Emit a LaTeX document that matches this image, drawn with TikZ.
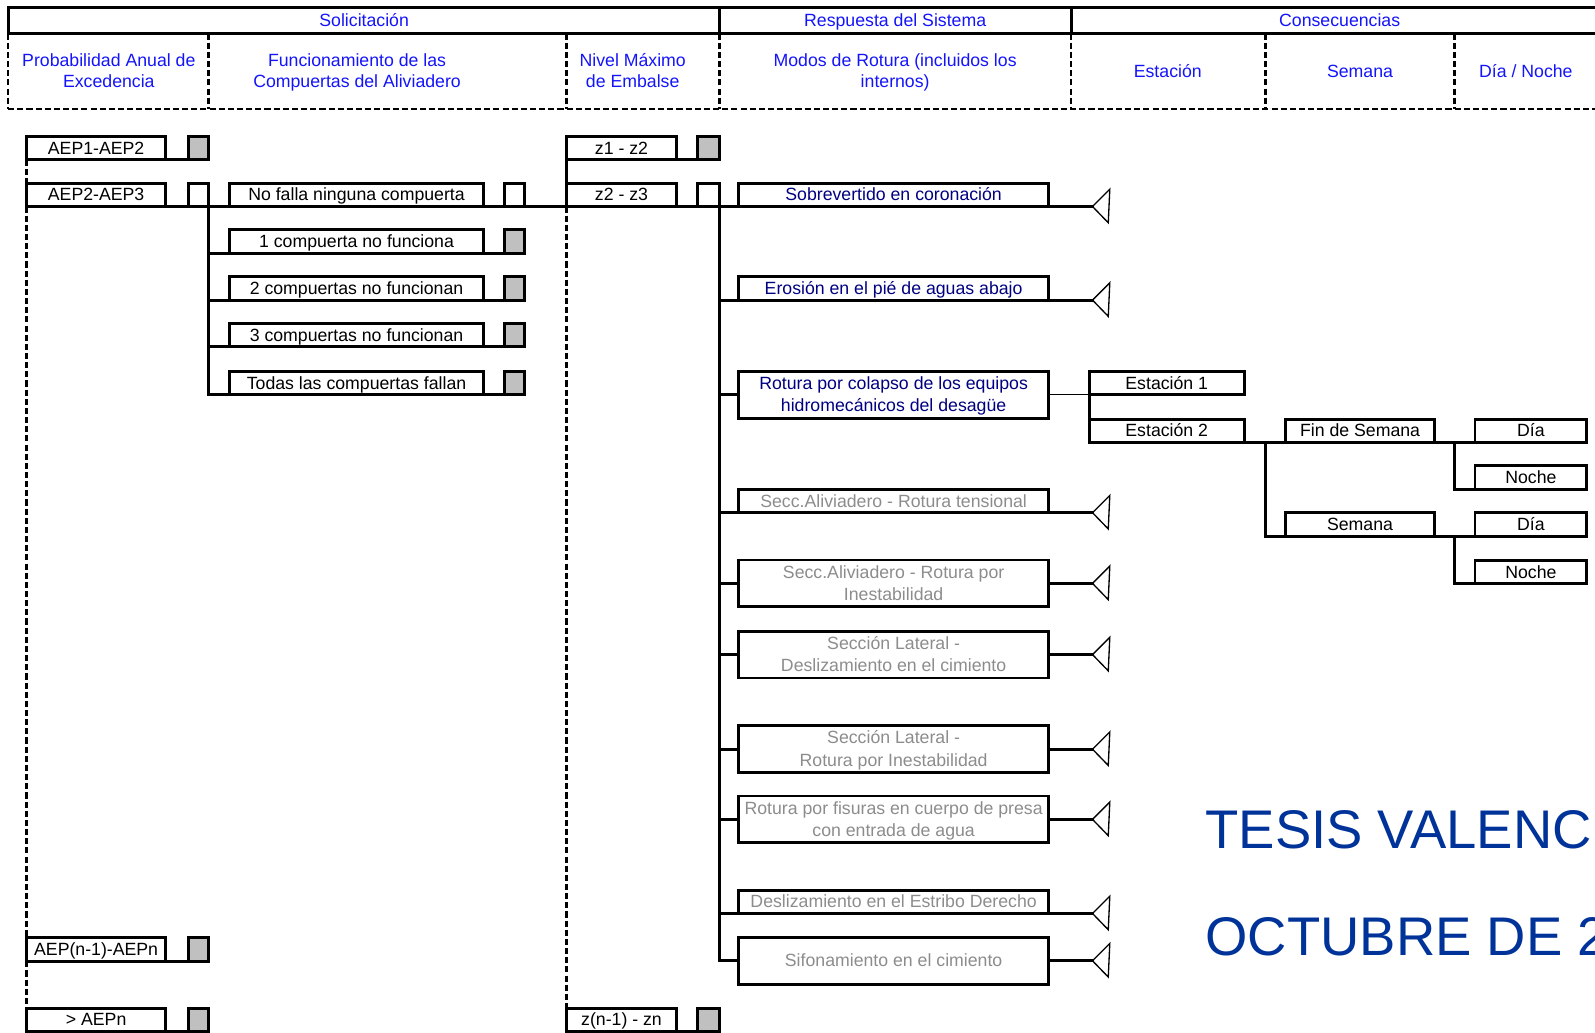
\documentclass[tikz,border=0pt]{standalone}
\usepackage{fontspec}
\setmainfont{Liberation Sans}
\definecolor{hdrblue}{RGB}{20,20,250}
\definecolor{modenavy}{RGB}{0,0,128}
\definecolor{modegray}{RGB}{140,140,140}
\definecolor{cellgray}{RGB}{192,192,192}
\definecolor{titleblue}{RGB}{0,51,153}
\newcommand\boxfont{\fontsize{17.4}{22}\selectfont}
\newcommand\hdrfont{\fontsize{17.4}{21}\selectfont}
\newcommand\titlefont{\fontsize{53.5}{60}\selectfont}
% terminal triangle of a branch: named tip coordinate plus outline
\newcommand\branchleaf[2]{%
  \coordinate (#1) at (1074,#2);
  \draw[endtri] (#1) -- ++(17,-17) -- ++(-1.5,33) -- cycle;}

\begin{document}
\begin{tikzpicture}[x=1pt,y=-1pt,
  rule/.style={line width=2.8pt},
  dashrule/.style={line width=2.6pt, dash pattern=on 6pt off 3pt},
  hdr/.style={font=\hdrfont, text=hdrblue, inner sep=0pt, outer sep=0pt, text height=12.7pt, text depth=0pt},
  hdrtwo/.style={font=\hdrfont, text=hdrblue, align=center, inner sep=0pt, outer sep=0pt, text height=33.7pt, text depth=0pt},
  tag/.style={draw, line width=2.8pt, inner sep=0pt, outer sep=0pt, font=\boxfont, text height=12pt, text depth=0pt},
  tagtwo/.style={draw, line width=2.8pt, inner sep=0pt, outer sep=0pt, font=\boxfont, align=center, text height=34.5pt, text depth=1pt},
  colA/.style={tag, minimum width=137pt, minimum height=23pt},
  colB/.style={tag, minimum width=249pt, minimum height=23pt},
  colC/.style={tag, minimum width=108pt, minimum height=23pt},
  colD/.style={tag, minimum width=305pt, minimum height=23pt},
  colDtwo/.style={tagtwo, minimum width=305pt, minimum height=46pt},
  colE/.style={tag, minimum width=152pt, minimum height=23pt},
  colF/.style={tag, minimum width=146pt, minimum height=23pt},
  colG/.style={tag, minimum width=110pt, minimum height=23pt},
  endsq/.style={draw, line width=2.8pt, inner sep=0pt, outer sep=0pt, minimum width=20pt, minimum height=23pt},
  greysq/.style={endsq, fill=cellgray},
  wire/.style={line width=2.8pt, line cap=rect},
  thinwire/.style={line width=1.5pt},
  endtri/.style={line width=1.3pt, line join=miter},
  titletext/.style={anchor=base west, inner sep=0pt, font=\titlefont, text=titleblue},
]
\useasboundingbox (0,0) rectangle (1568,1015);
\clip (0,0) rectangle (1568,1015);

% ---------------- header table ----------------
\draw[rule] (8,33) -- (8,7) -- (1580,7);
\draw[rule] (8,33) -- (1580,33);
\draw[rule] (707,7) -- (707,33);
\draw[rule] (1053,7) -- (1053,33);
\foreach \x in {8,205,557,707,1053,1244,1430}
  \draw[dashrule] (\x,33) -- (\x,107);
\draw[dashrule] (8,107) -- (1580,107);

\node[hdr] (hsol)  at (358,19.3)  {Solicitación};
\node[hdr] (hresp) at (880,19.3)  {Respuesta del Sistema};
\node[hdr] (hcons) at (1317,19.3) {Consecuencias};
\node[hdrtwo] (hprob)  at (107,69.2) {Probabilidad Anual de\\Excedencia};
\node[hdrtwo] (hfunc)  at (351,69.2) {Funcionamiento de las\\Compuertas del Aliviadero};
\node[hdrtwo] (hnivel) at (622,69.2) {Nivel Máximo\\de Embalse};
\node[hdrtwo] (hmodos) at (880,69.2) {Modos de Rotura (incluidos los\\internos)};
\node[hdr] (hest) at (1148,69.6) {Estación};
\node[hdr] (hsem) at (1337,69.6) {Semana};
\node[hdr] (hdn)  at (1500,69.6) {Día / Noche};

% ---------------- annual exceedance probability ----------------
\node[colA] (aep1)  at (94.5,145.5)  {AEP1-AEP2};
\node[greysq] (aep1s) at (195,145.5) {};
\node[colA] (aep2)  at (94.5,191.5)  {AEP2-AEP3};
\node[endsq] (aep2s) at (195,191.5) {};
\node[colA] (aepm)  at (94.5,933.5)  {AEP(n-1)-AEPn};
\node[greysq] (aepms) at (195,933.5) {};
\node[colA] (aepn)  at (94.5,1002.5) {> AEPn};
\node[greysq] (aepns) at (195,1002.5) {};

\draw[wire] (aep1.south west) -- (aep1s.south east);
\draw[wire] (aepm.south west) -- (aepms.south east);
\draw[wire] (aepn.south west) -- (aepns.south east);
\draw[dashrule] (aep1.south west) -- (aep2.north west);
\draw[dashrule] (aep2.south west) -- (aepm.north west);
\draw[dashrule] (aepm.south west) -- (aepn.north west);

% ---------------- spillway gates ----------------
\node[colB] (g0) at (350.5,191.5) {No falla ninguna compuerta};
\node[endsq] (g0s) at (506,191.5) {};
\node[colB] (g1) at (350.5,237.5) {1 compuerta no funciona};
\node[greysq] (g1s) at (506,237.5) {};
\node[colB] (g2) at (350.5,283.5) {2 compuertas no funcionan};
\node[greysq] (g2s) at (506,283.5) {};
\node[colB] (g3) at (350.5,329.5) {3 compuertas no funcionan};
\node[greysq] (g3s) at (506,329.5) {};
\node[colB] (g4) at (350.5,376.5) {Todas las compuertas fallan};
\node[greysq] (g4s) at (506,376.5) {};

\foreach \g in {g1,g2,g3,g4}
  \draw[wire] (aep2s.south east) |- (\g.south west) -- (\g s.south east);

% ---------------- maximum reservoir level ----------------
\node[colC] (z1) at (611,145.5) {z1 - z2};
\node[greysq, minimum width=21pt] (z1s) at (696.5,145.5) {};
\node[colC] (z2) at (611,191.5) {z2 - z3};
\node[endsq, minimum width=21pt] (z2s) at (696.5,191.5) {};
\node[colC] (zn) at (611,1002.5) {z(n-1) - zn};
\node[greysq, minimum width=21pt] (zns) at (696.5,1002.5) {};

\draw[wire] (z1.south west) -- (z2.north west);
\draw[wire] (z1.south west) -- (z1s.south east);
\draw[dashrule] (z2.south west) -- (zn.north west);
\draw[wire] (zn.south west) -- (zns.south east);

% ---------------- failure modes ----------------
\node[colD, text=modenavy] (m1) at (878.5,191.5) {Sobrevertido en coronación};
\node[colD, text=modenavy] (m2) at (878.5,283.5) {Erosión en el pié de aguas abajo};
\node[colDtwo, text=modenavy] (m3) at (878.5,388) {Rotura por colapso de los equipos\\hidromecánicos del desagüe};
\node[colD, text=modegray] (m4) at (878.5,492.5) {Secc.Aliviadero - Rotura tensional};
\node[colDtwo, text=modegray] (m5) at (878.5,573.5) {Secc.Aliviadero - Rotura por\\Inestabilidad};
\node[colDtwo, text=modegray] (m6) at (878.5,643.5) {Sección Lateral -\\Deslizamiento en el cimiento};
\node[colDtwo, text=modegray] (m7) at (878.5,736.5) {Sección Lateral -\\Rotura por Inestabilidad};
\node[colDtwo, text=modegray] (m8) at (878.5,805.5) {Rotura por fisuras en cuerpo de presa\\con entrada de agua};
\node[colD, text=modegray] (m9) at (878.5,886.5) {Deslizamiento en el Estribo Derecho};
\node[colD, text=modegray, minimum height=46pt] (m10) at (878.5,944.5) {Sifonamiento en el cimiento};

\branchleaf{t1}{203}
\branchleaf{t2}{295}
\branchleaf{t4}{504}
\branchleaf{t5}{573.5}
\branchleaf{t6}{643.5}
\branchleaf{t7}{736.5}
\branchleaf{t8}{805.5}
\branchleaf{t9}{898}
\branchleaf{t10}{944.5}

% trunk through the first row of every column
\draw[wire] (aep2.south west) -- (t1);

\draw[wire] (z2s.south east) |- (m10.west);
\foreach \m/\t in {m2/t2,m4/t4,m9/t9}
  \draw[wire] (z2s.south east) |- (\m.south west) -- (\t);
\foreach \m/\t in {m5/t5,m6/t6,m7/t7,m8/t8,m10/t10}
  {\draw[wire] (z2s.south east) |- (\m.west);
   \draw[wire] (\m.east) -- (\t);}
\draw[wire] (z2s.south east) |- (m3.west);

% ---------------- consequences ----------------
\node[colE] (e1) at (1147,376.5) {Estación 1};
\node[colE] (e2) at (1147,423.5) {Estación 2};
\node[colF] (fs) at (1337,423.5) {Fin de Semana};
\node[colF] (sw) at (1337,515.5) {Semana};
\node[colG] (d1) at (1505,423.5) {Día};
\node[colG] (n1) at (1505,469.5) {Noche};
\node[colG] (d2) at (1505,515.5) {Día};
\node[colG] (n2) at (1505,562.5) {Noche};

\coordinate (j1) at (1244,435);
\coordinate (j2) at (1430,435);
\coordinate (j3) at (1430,527);

\draw[thinwire] (m3.east) -- (e1.south west);
\draw[wire] (e1.south west) -- (e2.north west);
\draw[wire] (e2.south east) -- (fs.south west);
\draw[wire] (j1) |- (sw.south west);
\draw[wire] (fs.south east) -- (d1.south west);
\draw[wire] (j2) |- (n1.south west);
\draw[wire] (sw.south east) -- (d2.south west);
\draw[wire] (j3) |- (n2.south west);

% ---------------- title ----------------
\node[titletext] (title1) at (1185,834.5) {TESIS VALENC};
\node[titletext] (title2) at (1185,939.5) {OCTUBRE DE 2};
\end{tikzpicture}
\end{document}
